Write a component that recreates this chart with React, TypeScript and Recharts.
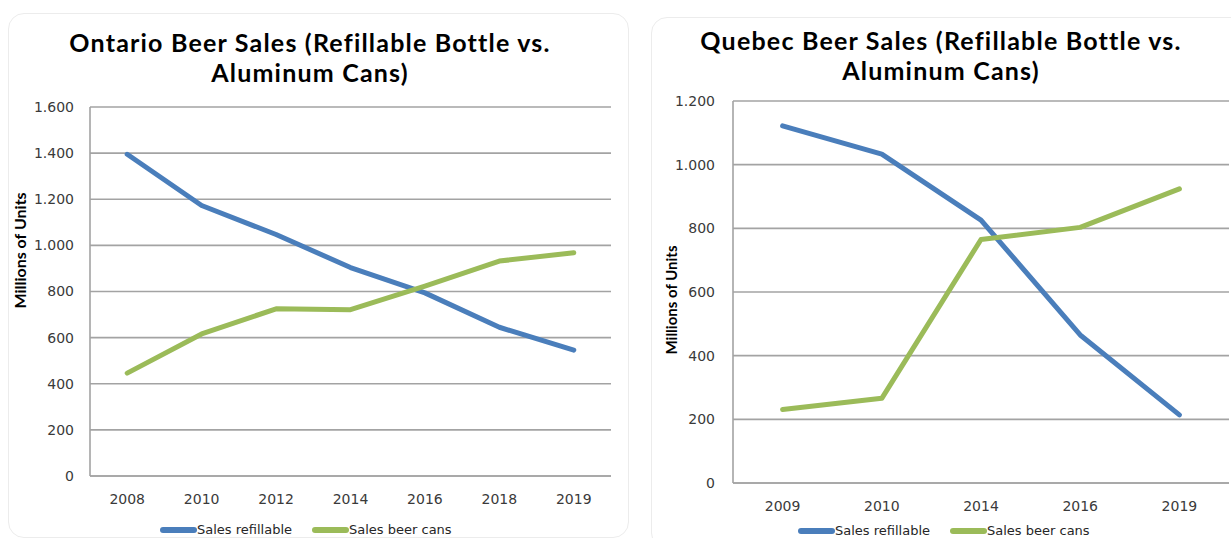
import React from "react";
import { LineChart, Line, XAxis, YAxis, CartesianGrid, Legend } from "recharts";

const ontarioYears = ["2008", "2010", "2012", "2014", "2016", "2018", "2019"];
const ontarioRefillable = [1395, 1173, 1047, 904, 794, 645, 546];
const ontarioCans = [446, 616, 725, 721, 823, 932, 968];
const ontarioTicks = [0, 200, 400, 600, 800, 1000, 1200, 1400, 1600];

const quebecYears = ["2009", "2010", "2014", "2016", "2019"];
const quebecRefillable = [1122, 1033, 826, 465, 214];
const quebecCans = [231, 266, 765, 803, 924];
const quebecTicks = [0, 200, 400, 600, 800, 1000, 1200];

const BLUE = "#4a7ebb";
const GREEN = "#9bbb59";
const GRID = "#a3a3a3";
const TITLE_FONT = "Lato, 'DejaVu Sans', sans-serif";
const TICK_FONT = "'DejaVu Sans', sans-serif";

const fmt = (v: number) =>
  v >= 1000 ? `${Math.floor(v / 1000)}.${String(v % 1000).padStart(3, "0")}` : String(v);

function LegendBox({ left }: { left: number }) {
  const item = (color: string, text: string) => (
    <span style={{ display: "inline-flex", alignItems: "center", marginRight: 20 }}>
      <span
        style={{
          display: "inline-block",
          width: 37,
          height: 6,
          borderRadius: 3,
          background: color,
        }}
      />
      <span style={{ fontSize: 13, color: "#262626", fontFamily: TICK_FONT }}>{text}</span>
    </span>
  );
  return (
    <div style={{ height: 16, lineHeight: "16px", paddingLeft: left, whiteSpace: "nowrap" }}>
      {item(BLUE, "Sales refillable")}
      {item(GREEN, "Sales beer cans")}
    </div>
  );
}

type PanelProps = {
  years: string[];
  refillable: number[];
  cans: number[];
  ticks: number[];
  width: number;
  top: number;
  right: number;
  bottom: number;
  yAxisWidth: number;
  yTickGap: number;
  labelX: number;
  labelDy: number;
  labelSize: number;
  legendLeft: number;
  legendBottom: number;
};

function Panel(p: PanelProps) {
  const data = p.years.map((y, i) => ({
    year: y,
    refillable: p.refillable[i],
    cans: p.cans[i],
  }));
  const plotW = p.width - p.yAxisWidth - p.right;
  const pad = plotW / p.years.length / 2;
  return (
    <LineChart
      width={p.width}
      height={538}
      data={data}
      margin={{ top: p.top, right: p.right, left: 0, bottom: p.bottom }}
    >
      <CartesianGrid vertical={false} stroke={GRID} strokeWidth={1.6} />
      <XAxis
        dataKey="year"
        padding={{ left: pad, right: pad }}
        tickLine={false}
        axisLine={{ stroke: GRID, strokeWidth: 1.6 }}
        tick={{ fill: "#3a3a3a", fontSize: 14, fontFamily: TICK_FONT }}
        tickMargin={12}
        height={32}
      />
      <YAxis
        domain={[p.ticks[0], p.ticks[p.ticks.length - 1]]}
        ticks={p.ticks}
        tickFormatter={fmt}
        width={p.yAxisWidth}
        tickLine={false}
        axisLine={{ stroke: GRID, strokeWidth: 1.6 }}
        tick={{ fill: "#3a3a3a", fontSize: 14, fontFamily: TICK_FONT }}
        tickMargin={p.yTickGap}
        label={(props: any) => {
          const vb = props.viewBox;
          const cx = vb.x + p.labelX;
          const cy = vb.y + vb.height / 2 + p.labelDy;
          return (
            <text
              x={cx}
              y={cy}
              transform={`rotate(-90 ${cx} ${cy})`}
              textAnchor="middle"
              dominantBaseline="central"
              fontSize={p.labelSize}
              fontWeight="bold"
              fontFamily={TITLE_FONT}
              fill="#000"
            >
              Millions of Units
            </text>
          );
        }}
      />
      <Legend
        verticalAlign="bottom"
        wrapperStyle={{ bottom: p.legendBottom, left: 0 }}
        content={() => <LegendBox left={p.legendLeft} />}
      />
      <Line
        dataKey="refillable"
        stroke={BLUE}
        strokeWidth={5}
        dot={false}
        strokeLinecap="round"
        strokeLinejoin="round"
        isAnimationActive={false}
      />
      <Line
        dataKey="cans"
        stroke={GREEN}
        strokeWidth={5}
        dot={false}
        strokeLinecap="round"
        strokeLinejoin="round"
        isAnimationActive={false}
      />
    </LineChart>
  );
}

const titleStyle: React.CSSProperties = {
  position: "absolute",
  textAlign: "center",
  fontFamily: TITLE_FONT,
  fontWeight: 700,
  fontSize: 25,
  letterSpacing: 1.2,
  lineHeight: "30px",
  color: "#000",
  whiteSpace: "nowrap",
};

export default function App() {
  return (
    <div
      style={{
        position: "absolute",
        left: 0,
        top: 0,
        width: 1231,
        height: 538,
        overflow: "hidden",
        background: "#fff",
      }}
    >
      <div
        style={{
          position: "absolute",
          left: 8,
          top: 13,
          width: 619,
          height: 523,
          border: "1px solid #ececec",
          borderRadius: 16,
        }}
      />
      <div
        style={{
          position: "absolute",
          left: 651,
          top: 17,
          width: 600,
          height: 530,
          border: "1px solid #ececec",
          borderRadius: 16,
        }}
      />
      <div style={{ ...titleStyle, left: 0, top: 27, width: 620 }}>
        Ontario Beer Sales (Refillable Bottle vs.
        <br />
        Aluminum Cans)
      </div>
      <div style={{ ...titleStyle, left: 651, top: 25, width: 580 }}>
        Quebec Beer Sales (Refillable Bottle vs.
        <br />
        Aluminum Cans)
      </div>
      <div style={{ position: "absolute", left: 0, top: 0 }}>
        <Panel
          years={ontarioYears}
          refillable={ontarioRefillable}
          cans={ontarioCans}
          ticks={ontarioTicks}
          width={628}
          top={107}
          right={17}
          bottom={14}
          yAxisWidth={90}
          yTickGap={10}
          labelX={19}
          labelDy={-41}
          labelSize={16}
          legendLeft={160}
          legendBottom={2}
        />
      </div>
      <div style={{ position: "absolute", left: 640, top: 0 }}>
        <Panel
          years={quebecYears}
          refillable={quebecRefillable}
          cans={quebecCans}
          ticks={quebecTicks}
          width={591}
          top={101}
          right={2}
          bottom={7}
          yAxisWidth={93}
          yTickGap={12}
          labelX={31}
          labelDy={8}
          labelSize={15}
          legendLeft={158}
          legendBottom={1}
        />
      </div>
    </div>
  );
}
